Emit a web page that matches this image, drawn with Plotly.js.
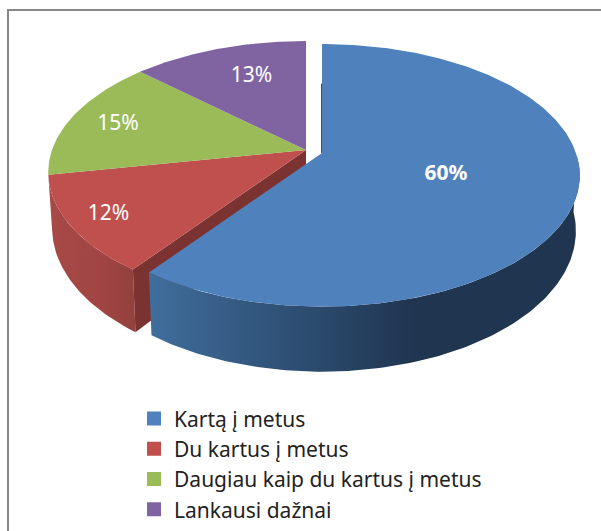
<!DOCTYPE html>
<html><head><meta charset="utf-8">
<script src="https://cdn.plot.ly/plotly-3.0.1.min.js"></script>
<style>html,body{margin:0;padding:0;background:#fff}#c{width:601px;height:531px}</style>
</head><body><div id="c"></div>
<script>
const categories = ["Kartą į metus","Du kartus į metus","Daugiau kaip du kartus į metus","Lankausi dažnai"];
const values = [60,12,15,13];
const colors = ["#4f81bd","#c0504d","#9bbb59","#8064a2"];

// projection of the tilted pie onto the page
const R=254, TILT=127.5, PERSP=0.17, DEPTH=54, BOTTOM_SHRINK=0.985;
const centre={x:306,y:150}, blueCentre={x:322,y:153};
const labelRadius=[0.5,0.85,0.8,0.7], labelTurn=[0,0,0,3.5], labelDrop=2;
function proj(c,r,deg,bottom){
  const t=deg*Math.PI/180, s=Math.sin(t)*r, co=Math.cos(t)*r, d=1+PERSP*co;
  const shrink=bottom?BOTTOM_SHRINK:1;
  return {x:c.x+R*s/d*shrink, y:c.y-TILT*co/d+(bottom?DEPTH/d:0)};
}
function arc(c,a,b,bottom){
  const p=[],n=Math.max(2,Math.ceil(Math.abs(b-a)));
  for(let i=0;i<=n;i++) p.push(proj(c,1,a+(b-a)*i/n,bottom));
  return p;
}
function poly(pts,fill,grad){
  const tr={type:'scatter',mode:'lines',x:pts.map(p=>p.x),y:pts.map(p=>p.y),fill:'toself',
    line:{width:0,color:fill},fillcolor:fill,showlegend:false,hoverinfo:'skip'};
  if(grad) tr.fillgradient=grad;
  return tr;
}
const total=values.reduce((a,b)=>a+b,0);
let cum=0; const spans=values.map(v=>{const a=cum;cum+=v/total*360;return [a,cum];});
const cOf=i=>i===0?blueCentre:centre;
const traces=[];

// red: outer wall and cut wall
const [ra,rb]=spans[1];
traces.push(poly(arc(centre,ra,rb,false).concat(arc(centre,rb,ra,true)),"#a04542",
 {type:'horizontal',colorscale:[[0,'#a84a47'],[0.6,'#a04543'],[1,'#93403d']]}));
traces.push(poly([centre,proj(centre,1,ra,false),proj(centre,1,ra,true),proj(centre,0,ra,true)],"#7b3331"));
// slices 1-3 top faces
for(let i=1;i<4;i++){
  traces.push(poly([centre].concat(arc(centre,spans[i][0],spans[i][1],false)),colors[i]));
}
// blue wall and top face
const [ba,bb]=spans[0];
traces.push(poly(arc(blueCentre,92,bb,false).concat(arc(blueCentre,bb,92,true)),"#2a4565",
 {type:'horizontal',start:140,stop:585,colorscale:[[0,'#41709f'],[0.25,'#33587f'],[0.5,'#25405f'],[0.62,'#1f3550'],[1,'#1f3550']]}));
traces.push(poly([blueCentre].concat(arc(blueCentre,ba,bb,false)),colors[0]));
const edge=proj(blueCentre,0.6,0,false);
traces.push({type:'scatter',mode:'lines',x:[edge.x-0.5,blueCentre.x-0.5],y:[edge.y,blueCentre.y],line:{color:'#2f4f75',width:1},showlegend:false,hoverinfo:'skip'});
// percentage labels
const lab=values.map((v,i)=>proj(cOf(i),labelRadius[i],(spans[i][0]+spans[i][1])/2+labelTurn[i],false));
traces.push({type:'scatter',mode:'text',x:lab.map(p=>p.x),y:lab.map(p=>p.y+labelDrop),
  text:values.map((v,i)=>i===0?`<b>${v}%</b>`:`${v}%`),textposition:'middle center',
  textfont:{family:'"Noto Sans", sans-serif',size:21,color:'#fff'},showlegend:false,hoverinfo:'skip'});
// legend entries
categories.forEach((name,i)=>traces.push({type:'scatter',mode:'markers',x:[null],y:[null],name,legendgroup:'g'+i,
  marker:{symbol:'square',size:14,color:colors[i]},hoverinfo:'skip'}));

const layout={width:601,height:531,margin:{l:0,r:0,t:0,b:0},paper_bgcolor:'#fff',plot_bgcolor:'#fff',
  xaxis:{range:[0,601],visible:false,fixedrange:true},
  yaxis:{range:[531,0],visible:false,fixedrange:true},
  legend:{x:0.223,y:0.25,xanchor:'left',yanchor:'top',bgcolor:'rgba(0,0,0,0)',tracegroupgap:0,
    font:{family:'"Noto Sans", sans-serif',size:21,color:'#222'},itemwidth:30},
  shapes:[
   {type:'line',xref:'x',yref:'y',x0:8,x1:601,y0:10,y1:10,line:{color:'#888',width:2}},
   {type:'line',xref:'x',yref:'y',x0:8,x1:8,y0:9,y1:531,line:{color:'#888',width:2}}]};
Plotly.newPlot('c',traces,layout,{displayModeBar:false,staticPlot:true});
</script></body></html>
